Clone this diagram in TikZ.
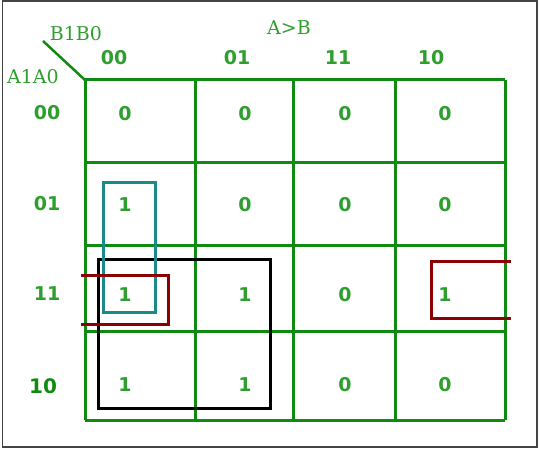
\documentclass[tikz,border=0pt]{standalone}
\usepackage{fontspec}
\setmainfont{DejaVu Serif}
\newfontfamily\cellfont{DejaVu Sans}
\definecolor{r16g138b16}{rgb}{0.062745,0.541176,0.062745}
\definecolor{r46g158b46}{rgb}{0.180392,0.619608,0.180392}
\definecolor{r26g138b138}{rgb}{0.101961,0.541176,0.545098}
\definecolor{r139g0b0}{rgb}{0.545098,0.000000,0.000000}
\definecolor{r68g68b68}{rgb}{0.266667,0.266667,0.266667}
\tikzset{
  gridline/.style={line width=3pt,r16g138b16},
  cellval/.style={font=\cellfont\bfseries\fontsize{19}{19}\selectfont,text=r46g158b46,inner sep=0pt},
  codelabel/.style={font=\cellfont\bfseries\fontsize{19}{19}\selectfont,text=r46g158b46,inner sep=0pt},
  varlabel/.style={font=\fontsize{19}{19}\selectfont,text=r46g158b46,inner sep=0pt},
  loopbox/.style={line width=3pt}
}
\begin{document}
\begin{tikzpicture}[x=1pt,y=-1pt]
                    \useasboundingbox (0,0) rectangle (540,449);

                    % Drawing frame
                    \draw [line width=1.6pt,r68g68b68] (2.5,1.0) rectangle (537.0,447.0);%

                    % Drawing grid lines
                    \foreach \gx in {85,195,293,395,505}
                      \draw [gridline] (\gx,80) -- (\gx,420);%
                    \foreach \gy in {80,163,245,331,420}
                      \draw [gridline] (85,\gy) -- (505,\gy);%

                    % Drawing corner line
                    \coordinate (corner) at (85,80);
                    \coordinate (slash) at (43,41);
                    \draw [line width=2.5pt,r16g138b16] (slash) -- (corner);%

                    % Variable labels
                    \node [varlabel] (title) at (289,28) {A>B};
                    \node [varlabel] (colvar) at (76,34) {B1B0};
                    \node [varlabel] (rowvar) at (33,77) {A1A0};

                    % Column codes
                    \node [codelabel] (c00) at (114,58) {00};
                    \node [codelabel] (c01) at (237,58) {01};
                    \node [codelabel] (c11) at (338,58) {11};
                    \node [codelabel] (c10) at (431,58) {10};

                    % Row codes
                    \node [codelabel] (r00) at (47,113) {00};
                    \node [codelabel] (r01) at (47,204) {01};
                    \node [codelabel] (r11) at (47,294) {11};
                    \node [codelabel,text=r16g138b16,font=\cellfont\bfseries\fontsize{20}{20}\selectfont] (r10) at (43,386) {10};

                    % Cell values
                    \foreach \v [count=\i] in {0,0,0,0}
                      \node [cellval] (a\i) at ({\i==1?125:(\i==2?245:(\i==3?345:445))},113.5) {\v};
                    \foreach \v [count=\i] in {1,0,0,0}
                      \node [cellval] (b\i) at ({\i==1?125:(\i==2?245:(\i==3?345:445))},205) {\v};
                    \foreach \v [count=\i] in {1,1,0,1}
                      \node [cellval] (c\i) at ({\i==1?125:(\i==2?245:(\i==3?345:445))},294.5) {\v};
                    \foreach \v [count=\i] in {1,1,0,0}
                      \node [cellval] (d\i) at ({\i==1?125:(\i==2?245:(\i==3?345:445))},384.5) {\v};

                    % Drawing quad loop
                    \draw [loopbox,black] (98.5,259.0) rectangle (270.0,408.5);%

                    % Drawing pair loop
                    \draw [loopbox,r26g138b138] (103.0,182.0) rectangle (155.0,312.0);%

                    % Drawing wrap loop
                    \draw [loopbox,r139g0b0] (81.0,275.0) -- (168.0,275.0) -- (168.0,324.0) -- (81.0,324.0);%
                    \draw [loopbox,r139g0b0] (511.0,261.0) -- (431.0,261.0) -- (431.0,318.0) -- (511.0,318.0);%
\end{tikzpicture}
\end{document}
